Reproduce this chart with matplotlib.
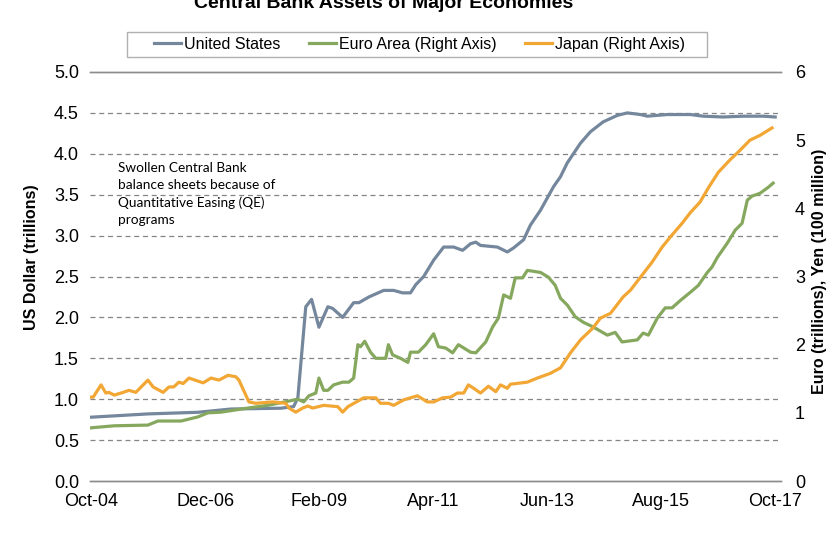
import matplotlib
matplotlib.use("Agg")
import matplotlib.pyplot as plt
from matplotlib.patches import Rectangle
import numpy as np

plt.rcParams['font.family'] = ['Liberation Sans', 'DejaVu Sans']

# ---- data (time in decimal years) ----
us_t = [2004.75, 2005.83, 2006.78, 2007.41, 2008.36, 2008.60, 2008.68, 2008.83, 2008.94, 2009.08,
        2009.25, 2009.34, 2009.53, 2009.74, 2009.84, 2010.03, 2010.31, 2010.50, 2010.67, 2010.82,
        2010.92, 2011.07, 2011.26, 2011.45, 2011.64, 2011.81, 2011.96, 2012.06, 2012.15, 2012.47,
        2012.66, 2012.78, 2012.97, 2013.10, 2013.29, 2013.54, 2013.67, 2013.80, 2014.05, 2014.24,
        2014.48, 2014.75, 2014.94, 2015.19, 2015.32, 2015.70, 2016.14, 2016.38, 2016.76, 2017.14,
        2017.52, 2017.75]
us_v = [0.78, 0.82, 0.84, 0.88, 0.89, 0.91, 1.02, 2.13, 2.22, 1.88,
        2.13, 2.11, 2.00, 2.18, 2.18, 2.25, 2.33, 2.33, 2.30, 2.30,
        2.40, 2.50, 2.70, 2.86, 2.86, 2.82, 2.90, 2.92, 2.88, 2.86,
        2.80, 2.85, 2.95, 3.13, 3.31, 3.60, 3.72, 3.89, 4.13, 4.27,
        4.39, 4.47, 4.50, 4.48, 4.46, 4.48, 4.48, 4.46, 4.45, 4.46,
        4.46, 4.45]

eu_t = [2004.75, 2005.19, 2005.83, 2006.02, 2006.46, 2006.78, 2006.97, 2007.22, 2007.73, 2008.11,
        2008.49, 2008.68, 2008.79, 2008.89, 2009.02, 2009.08, 2009.17, 2009.25, 2009.36, 2009.53,
        2009.65, 2009.74, 2009.82, 2009.87, 2009.95, 2010.06, 2010.16, 2010.35, 2010.40, 2010.48,
        2010.63, 2010.77, 2010.82, 2010.97, 2011.11, 2011.26, 2011.35, 2011.49, 2011.62, 2011.73,
        2011.96, 2012.06, 2012.25, 2012.38, 2012.49, 2012.59, 2012.72, 2012.81, 2012.95, 2013.04,
        2013.29, 2013.44, 2013.57, 2013.67, 2013.80, 2013.95, 2014.10, 2014.29, 2014.56, 2014.71,
        2014.84, 2015.13, 2015.24, 2015.34, 2015.51, 2015.66, 2015.79, 2015.95, 2016.14, 2016.29,
        2016.46, 2016.55, 2016.65, 2016.84, 2016.99, 2017.12, 2017.22, 2017.31, 2017.46, 2017.62,
        2017.71]
eu_v = [0.78, 0.81, 0.82, 0.88, 0.88, 0.94, 1.00, 1.01, 1.07, 1.11,
        1.17, 1.20, 1.16, 1.25, 1.29, 1.51, 1.33, 1.33, 1.41, 1.45,
        1.45, 1.51, 2.00, 1.97, 2.05, 1.89, 1.80, 1.80, 2.00, 1.85,
        1.80, 1.74, 1.89, 1.89, 2.00, 2.16, 1.97, 1.95, 1.88, 2.00,
        1.89, 1.88, 2.04, 2.26, 2.39, 2.73, 2.68, 2.98, 2.98, 3.09,
        3.06, 2.99, 2.87, 2.68, 2.58, 2.41, 2.33, 2.26, 2.14, 2.18,
        2.04, 2.07, 2.17, 2.14, 2.39, 2.54, 2.54, 2.65, 2.77, 2.87,
        3.06, 3.14, 3.28, 3.49, 3.68, 3.78, 4.12, 4.18, 4.22, 4.31,
        4.37]

jp_t = [2004.75, 2004.79, 2004.94, 2005.03, 2005.09, 2005.19, 2005.36, 2005.47, 2005.60, 2005.83,
        2005.93, 2006.12, 2006.23, 2006.32, 2006.42, 2006.50, 2006.61, 2006.88, 2007.03, 2007.18,
        2007.35, 2007.50, 2007.56, 2007.75, 2007.88, 2008.20, 2008.45, 2008.51, 2008.64, 2008.77,
        2008.87, 2008.96, 2009.17, 2009.44, 2009.53, 2009.63, 2009.93, 2010.16, 2010.25, 2010.40,
        2010.50, 2010.69, 2010.95, 2011.14, 2011.26, 2011.43, 2011.58, 2011.71, 2011.83, 2011.92,
        2012.02, 2012.15, 2012.30, 2012.44, 2012.53, 2012.66, 2012.72, 2013.04, 2013.23, 2013.48,
        2013.67, 2013.86, 2014.05, 2014.28, 2014.43, 2014.62, 2014.86, 2015.00, 2015.19, 2015.41,
        2015.60, 2015.79, 2015.98, 2016.14, 2016.32, 2016.48, 2016.67, 2016.89, 2017.08, 2017.27,
        2017.46, 2017.69]
jp_v = [1.23, 1.23, 1.41, 1.29, 1.30, 1.26, 1.30, 1.33, 1.30, 1.48,
        1.38, 1.30, 1.38, 1.38, 1.45, 1.43, 1.51, 1.44, 1.51, 1.48,
        1.55, 1.53, 1.48, 1.16, 1.14, 1.16, 1.14, 1.07, 1.01, 1.07,
        1.10, 1.07, 1.11, 1.09, 1.01, 1.09, 1.22, 1.22, 1.14, 1.14,
        1.11, 1.19, 1.25, 1.16, 1.16, 1.22, 1.23, 1.29, 1.29, 1.41,
        1.36, 1.29, 1.39, 1.31, 1.41, 1.36, 1.42, 1.45, 1.51, 1.58,
        1.66, 1.88, 2.07, 2.24, 2.39, 2.46, 2.70, 2.80, 2.99, 3.21,
        3.43, 3.61, 3.78, 3.94, 4.09, 4.30, 4.53, 4.71, 4.85, 5.00,
        5.07, 5.18]

tick_pos = [2004.75, 2006.917, 2009.083, 2011.25, 2013.417, 2015.583, 2017.75]
tick_labels = ['Oct-04', 'Dec-06', 'Feb-09', 'Apr-11', 'Jun-13', 'Aug-15', 'Oct-17']
left_ticks = [0.0, 0.5, 1.0, 1.5, 2.0, 2.5, 3.0, 3.5, 4.0, 4.5, 5.0]
right_ticks = [0, 1, 2, 3, 4, 5, 6]

c_us = '#74879c'
c_eu = '#86a85e'
c_jp = '#f2a734'

fig = plt.figure(figsize=(8.4, 5.36), dpi=100)
ax = fig.add_axes([90/840, 1-481/536, (781-90)/840, (481-72)/536])
ax2 = ax.twinx()

ax.set_xlim(2004.73, 2017.86)
ax.set_ylim(0, 5)
ax2.set_ylim(0, 6)

for a in (ax, ax2):
    for s in ('left', 'right'):
        a.spines[s].set_visible(False)
    a.spines['top'].set_color('#8c8c8c')
    a.spines['bottom'].set_color('#8c8c8c')
    a.spines['top'].set_linewidth(1.0)
    a.spines['bottom'].set_linewidth(1.0)

for y in left_ticks[1:-1]:
    ax.axhline(y, color='#858585', lw=0.9, ls=(0, (4, 3)), zorder=0)

ax.set_yticks(left_ticks)
ax.set_yticklabels([f'{v:.1f}' for v in left_ticks])
ax2.set_yticks(right_ticks)
ax2.set_yticklabels([str(v) for v in right_ticks])
ax.set_xticks(tick_pos)
ax.set_xticklabels(tick_labels)
ax.tick_params(axis='y', length=0, labelsize=13, pad=8)
ax.tick_params(axis='x', length=0, labelsize=13, pad=9)
ax2.tick_params(axis='y', length=0, labelsize=13, pad=10)

l1, = ax.plot(us_t, us_v, color=c_us, lw=2.3, label='United States', zorder=3)
l2, = ax2.plot(eu_t, eu_v, color=c_eu, lw=2.3, label='Euro Area (Right Axis)', zorder=3)
l3, = ax2.plot(jp_t, jp_v, color=c_jp, lw=2.3, label='Japan (Right Axis)', zorder=3)

ax.set_ylabel('US Dollar (trillions)', fontsize=11.5, fontweight='bold')
ax.yaxis.set_label_coords(-0.074, 0.548)
ax2.set_ylabel('Euro (trillions), Yen (100 million)', fontsize=11.5, fontweight='bold')
ax2.yaxis.set_label_coords(1.045, 0.513)

fig.text(0.457, 1 - 8/536, 'Central Bank Assets of Major Economies', ha='center', va='baseline',
         fontsize=14, fontweight='bold')

leg = fig.legend(handles=[l1, l2, l3], loc='center',
                 bbox_to_anchor=((127 + 707) / 2 / 840 + 0.003, 1 - 44.5/536), ncol=3,
                 fontsize=11.5, frameon=False, handlelength=1.7,
                 handletextpad=0.2, columnspacing=1.75, borderaxespad=0)
fig.patches.append(Rectangle((127/840, 1-57/536), 580/840, 25/536, transform=fig.transFigure,
                             fill=False, edgecolor='#b0b0b0', lw=1.0))

fig.text(118/840, 1-162/536, 'Swollen Central Bank\nbalance sheets because of\nQuantitative Easing (QE)\nprograms',
         ha='left', va='top', fontsize=9.8, family=['Lato', 'DejaVu Sans'], linespacing=1.5)

fig.savefig('out.png', dpi=100)
